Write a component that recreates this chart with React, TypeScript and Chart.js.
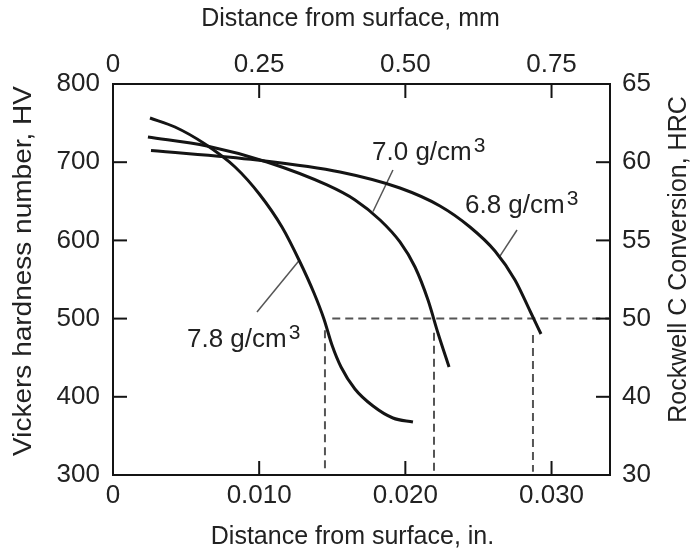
import React, { useEffect, useRef } from 'react';
import { Chart, registerables } from 'chart.js';

Chart.register(...registerables);

const FONT = "'Liberation Sans', Arial, Helvetica, sans-serif";
const INK = '#141414';
const TEXT = '#222222';

// Curves: hardness (HV) vs distance from surface (in.)
const d78X = [0.00253, 0.00424, 0.00629, 0.00835, 0.01006, 0.01156, 0.01279, 0.01375, 0.01443, 0.01498, 0.0156, 0.01655, 0.01779, 0.01915, 0.02052];
const d78Y = [756.5, 745, 723.3, 693.9, 658.1, 617.1, 572.4, 532.7, 499.5, 466.2, 438.1, 410, 388.2, 372.9, 367.8];
const d70X = [0.00239, 0.00643, 0.01053, 0.01464, 0.01656, 0.01827, 0.01963, 0.02066, 0.02155, 0.02223, 0.02299];
const d70Y = [732.2, 720.7, 700.3, 670.9, 651.7, 626.1, 598, 566, 523.8, 481.6, 438.1];
const d68X = [0.0026, 0.00985, 0.01553, 0.01963, 0.02237, 0.02442, 0.02613, 0.0275, 0.02853, 0.02928];
const d68Y = [715, 702.8, 687.5, 667, 644, 617.1, 586.4, 549.4, 509.7, 480.3];

// Dashed reference lines
const refHX = [0.015, 0.034];
const refHY = [500, 500];
const refVX = [0.0145, 0.02196, 0.02873];
const refVTop = [485, 482, 479];
const refVBottom = 304;

// Curve labels
const labelText = ['7.0 g/cm', '6.8 g/cm', '7.8 g/cm'];
const labelSup = ['3', '3', '3'];
const labelX = [0.01772, 0.02408, 0.00506];
const labelY = [702.8, 635, 463.7];

// Leader lines (from label to curve)
const leadX1 = [0.01915, 0.02764, 0.00985];
const leadY1 = [690, 613.3, 508.4];
const leadX2 = [0.01779, 0.02647, 0.01272];
const leadY2 = [637, 580, 574];

// Axes
const hvTicks = [300, 400, 500, 600, 700, 800];
const hrcTicks = ['30', '40', '50', '55', '60', '65'];
const titleTop = 'Distance from surface, mm';
const titleBottom = 'Distance from surface, in.';
const titleLeft = 'Vickers hardness number, HV';
const titleRight = 'Rockwell C Conversion, HRC';

const zip = (xs: number[], ys: number[]) => xs.map((x, i) => ({ x, y: ys[i] }));

const overlay = {
  id: 'overlay',
  afterDraw(chart: any) {
    const { ctx, chartArea: a, scales } = chart;
    const sx = scales.x, sy = scales.y, sx2 = scales.x2, sy2 = scales.y2;
    ctx.save();
    // inner tick marks
    ctx.strokeStyle = INK;
    ctx.lineWidth = 2;
    const L = 14;
    const seg = (x1: number, y1: number, x2: number, y2: number) => {
      ctx.beginPath();
      ctx.moveTo(x1, y1);
      ctx.lineTo(x2, y2);
      ctx.stroke();
    };
    sx.ticks.forEach((t: any) => {
      if (t.value <= 0) return;
      const p = sx.getPixelForValue(t.value);
      seg(p, a.bottom, p, a.bottom - L);
    });
    sx2.ticks.forEach((t: any) => {
      if (t.value <= 0) return;
      const p = sx2.getPixelForValue(t.value);
      seg(p, a.top, p, a.top + L);
    });
    sy.ticks.forEach((t: any) => {
      if (t.value <= 300 || t.value >= 800) return;
      const p = sy.getPixelForValue(t.value);
      seg(a.left, p, a.left + L, p);
    });
    sy2.ticks.forEach((t: any) => {
      if (t.value <= 300 || t.value >= 800) return;
      const p = sy2.getPixelForValue(t.value);
      seg(a.right, p, a.right - L, p);
    });

    // curve labels with superscript
    ctx.fillStyle = TEXT;
    ctx.textBaseline = 'alphabetic';
    ctx.textAlign = 'left';
    labelText.forEach((txt, i) => {
      const px = sx.getPixelForValue(labelX[i]);
      const py = sy.getPixelForValue(labelY[i]);
      ctx.font = `26px ${FONT}`;
      ctx.fillText(txt, px, py);
      const w = ctx.measureText(txt).width;
      ctx.font = `21px ${FONT}`;
      ctx.fillText(labelSup[i], px + w + 2, py - 8);
    });

    // axis titles
    ctx.font = `25px ${FONT}`;
    ctx.textAlign = 'center';
    ctx.textBaseline = 'middle';
    const cx = (a.left + a.right) / 2;
    const cy = (a.top + a.bottom) / 2;
    ctx.fillText(titleTop, cx - 11, 19.6);
    ctx.fillText(titleBottom, cx - 9, 537.6);
    ctx.save();
    ctx.translate(24.5, cy - 8.5);
    ctx.rotate(-Math.PI / 2);
    ctx.scale(1.12, 1);
    ctx.fillText(titleLeft, 0, 0);
    ctx.restore();
    ctx.save();
    ctx.translate(679.5, cy - 20);
    ctx.rotate(-Math.PI / 2);
    ctx.fillText(titleRight, 0, 0);
    ctx.restore();
    ctx.restore();
  },
};

export default function App() {
  const ref = useRef<HTMLCanvasElement | null>(null);
  useEffect(() => {
    document.body.style.margin = '0';
    const canvas = ref.current;
    if (!canvas) return;

    const curve = (xs: number[], ys: number[]) => ({
      data: zip(xs, ys),
      showLine: true,
      borderColor: INK,
      borderWidth: 3,
      pointRadius: 0,
      cubicInterpolationMode: 'monotone' as const,
      xAxisID: 'x',
      yAxisID: 'y',
    });
    const dashed = (pts: { x: number; y: number }[]) => ({
      data: pts,
      showLine: true,
      borderColor: '#555555',
      borderWidth: 2,
      borderDash: [8, 5],
      pointRadius: 0,
      tension: 0,
      xAxisID: 'x',
      yAxisID: 'y',
    });
    const leader = (i: number) => ({
      data: [
        { x: leadX1[i], y: leadY1[i] },
        { x: leadX2[i], y: leadY2[i] },
      ],
      showLine: true,
      borderColor: '#555555',
      borderWidth: 1.5,
      pointRadius: 0,
      tension: 0,
      xAxisID: 'x',
      yAxisID: 'y',
    });

    const datasets: any[] = [
      curve(d78X, d78Y),
      curve(d70X, d70Y),
      curve(d68X, d68Y),
      dashed(zip(refHX, refHY)),
      ...refVX.map((x, i) => dashed([{ x, y: refVTop[i] }, { x, y: refVBottom }])),
      leader(0),
      leader(1),
      leader(2),
    ];

    const tickFont = { family: FONT, size: 26 };
    const border = { display: true, color: INK, width: 2 };
    const grid = { display: false, drawTicks: false };

    const chart = new Chart(canvas, {
      type: 'scatter',
      data: { datasets },
      options: {
        animation: false,
        responsive: false,
        maintainAspectRatio: false,
        layout: { padding: 0 },
        plugins: { legend: { display: false }, tooltip: { enabled: false } },
        scales: {
          x: {
            type: 'linear',
            position: 'bottom',
            min: 0,
            max: 0.034,
            afterFit: (s: any) => { s.height = 80; },
            grid,
            border,
            ticks: {
              stepSize: 0.01,
              includeBounds: false,
              autoSkip: false,
              maxRotation: 0,
              padding: 5,
              font: tickFont,
              color: TEXT,
              callback: (v: any) => (Math.abs(v) < 1e-9 ? '0' : Number(v).toFixed(3)),
            },
          },
          x2: {
            type: 'linear',
            position: 'top',
            min: 0,
            max: 0.85,
            afterFit: (s: any) => { s.height = 84; },
            grid,
            border,
            ticks: {
              stepSize: 0.25,
              includeBounds: false,
              autoSkip: false,
              maxRotation: 0,
              padding: 4,
              font: tickFont,
              color: TEXT,
              callback: (v: any) => (Math.abs(v) < 1e-9 ? '0' : Number(v).toFixed(2)),
            },
          },
          y: {
            type: 'linear',
            position: 'left',
            min: 300,
            max: 800,
            afterFit: (s: any) => { s.width = 113; },
            grid,
            border,
            ticks: { stepSize: 100, autoSkip: false, padding: 13, font: tickFont, color: TEXT },
          },
          y2: {
            type: 'linear',
            position: 'right',
            min: 300,
            max: 800,
            afterFit: (s: any) => { s.width = 86; },
            grid,
            border,
            ticks: {
              stepSize: 100,
              autoSkip: false,
              padding: 12,
              font: tickFont,
              color: TEXT,
              callback: (v: any) => {
                const i = hvTicks.indexOf(Math.round(Number(v)));
                return i >= 0 ? hrcTicks[i] : '';
              },
            },
          },
        },
      } as any,
      plugins: [overlay],
    });
    return () => chart.destroy();
  }, []);

  return (
    <div style={{ width: 696, height: 555 }}>
      <canvas ref={ref} width={696} height={555} style={{ display: 'block', width: 696, height: 555 }} />
    </div>
  );
}
